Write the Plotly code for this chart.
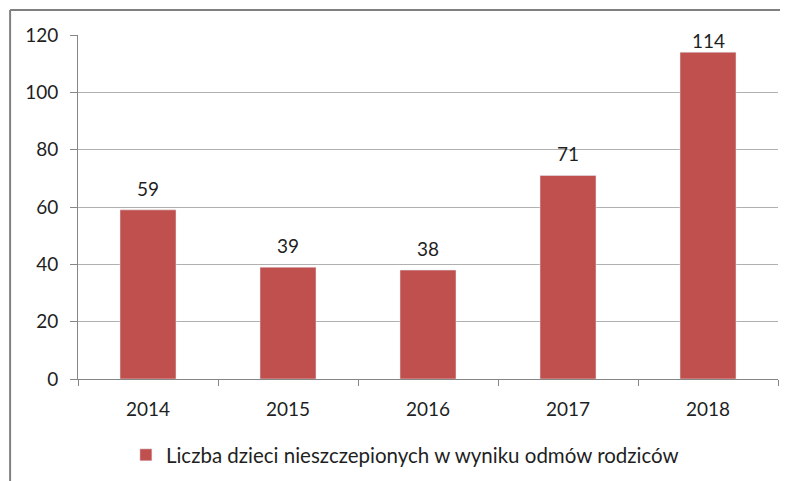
import plotly.graph_objects as go

years = ["2014", "2015", "2016", "2017", "2018"]
values = [59, 39, 38, 71, 114]
series_name = "Liczba dzieci nieszczepionych w wyniku odmów rodziców"
y_ticks = [0, 20, 40, 60, 80, 100, 120]
y_max = 120

FONT = "Lato"
TXT = "#1f1f1f"

FIG_H = 473
PLOT_H = FIG_H - 27 - 102  # plot area height in px

fig = go.Figure()
fig.add_trace(go.Bar(
    x=years, y=values, name=series_name,
    marker=dict(color="#C0504D"),
    width=0.4,
    cliponaxis=False,
    showlegend=True,
))

for i, v in enumerate(values):
    room = (y_max - v) * PLOT_H / y_max  # px between bar top and plot top
    shift = min(8, room - 19)             # keep label inside the plot area like Excel
    fig.add_annotation(x=i, y=v, text=str(v), showarrow=False,
                       xref="x", yref="y",
                       yanchor="bottom", yshift=shift,
                       font=dict(family=FONT, size=19, color=TXT))

# page has an 8px body margin, so the figure is drawn 8px smaller and shifted
fig.update_layout(
    width=780, height=FIG_H,
    margin=dict(l=70, r=10, t=27, b=102, autoexpand=False),
    paper_bgcolor="white", plot_bgcolor="white",
    font=dict(family=FONT, size=19, color=TXT),
    showlegend=True,
    legend=dict(orientation="h", x=0.467, xanchor="center",
                yref="container", y=26 / FIG_H, yanchor="middle",
                font=dict(family=FONT, size=20.5, color=TXT)),
    xaxis=dict(
        type="category", categoryorder="array", categoryarray=years,
        range=[-0.5, len(years) - 0.5],
        showgrid=False, showline=True, linecolor="#868686", linewidth=1,
        ticks="outside", tickson="boundaries", ticklen=6, tickcolor="#868686",
        tickfont=dict(family=FONT, size=19, color=TXT),
        ticklabelstandoff=13,
    ),
    yaxis=dict(
        range=[0, y_max], tickvals=y_ticks, showgrid=True, gridcolor="#B0B0B0", gridwidth=1,
        showline=True, linecolor="#868686", linewidth=1, zeroline=False,
        ticks="outside", ticklen=7, tickcolor="#868686",
        tickfont=dict(family=FONT, size=19, color=TXT),
        ticklabelstandoff=8,
    ),
    shapes=[
        dict(type="line", xref="paper", yref="paper", x0=-0.097, x1=1.03, y0=1.073, y1=1.073,
             line=dict(color="#808080", width=2)),
        dict(type="line", xref="paper", yref="paper", x0=-0.097, x1=-0.097, y0=1.073, y1=-0.32,
             line=dict(color="#808080", width=2)),
    ],
)

fig.write_html("out.html")
